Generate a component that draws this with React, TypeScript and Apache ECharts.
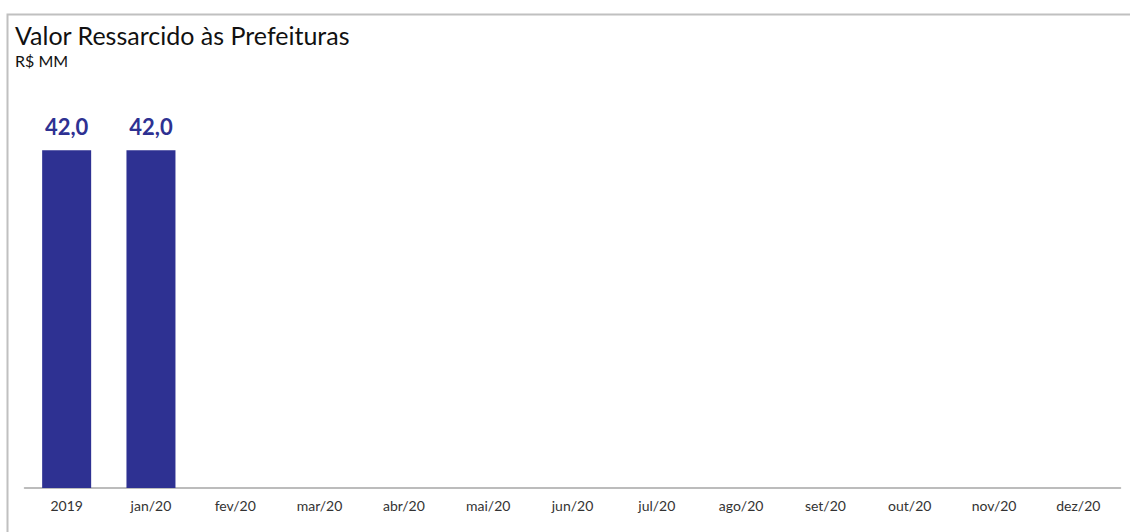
import React, { useEffect, useRef } from "react";
import * as echarts from "echarts";

const categories = ["2019", "jan/20", "fev/20", "mar/20", "abr/20", "mai/20", "jun/20", "jul/20", "ago/20", "set/20", "out/20", "nov/20", "dez/20"];
const values: (number | null)[] = [42.0, 42.0, null, null, null, null, null, null, null, null, null, null, null];

export default function App() {
  const ref = useRef<HTMLDivElement>(null);
  useEffect(() => {
    if (!ref.current) return;
    const chart = echarts.init(ref.current, undefined, { renderer: "svg" });
    chart.setOption({
      animation: false,
      backgroundColor: "#ffffff",
      graphic: [
        {
          type: "rect",
          shape: { x: 7.5, y: 14.5, width: 1140, height: 600 },
          style: { fill: "none", stroke: "#c0c0c0", lineWidth: 2 },
          silent: true,
        },
      ],
      title: {
        text: "Valor Ressarcido às Prefeituras",
        subtext: "R$ MM",
        left: 10,
        top: 17,
        itemGap: 5,
        textStyle: { fontFamily: "Lato", fontSize: 25, fontWeight: "normal", color: "#111111" },
        subtextStyle: { fontFamily: "Lato", fontSize: 16, color: "#111111" },
      },
      grid: { left: 24.5, right: 9.5, top: 86, bottom: 44 },
      xAxis: {
        type: "category",
        data: categories,
        axisLine: { lineStyle: { color: "#a6a6a6", width: 1.5 } },
        axisTick: { show: false },
        axisLabel: { color: "#333333", fontFamily: "Lato", fontSize: 14, margin: 10, interval: 0 },
      },
      yAxis: {
        type: "value",
        min: 0,
        max: 50,
        show: false,
        splitLine: { show: false },
      },
      series: [
        {
          type: "bar",
          data: values,
          barWidth: 49,
          itemStyle: { color: "#2e3192" },
          label: {
            show: true,
            position: "top",
            distance: 13,
            color: "#2e3192",
            fontFamily: "Lato",
            fontWeight: "bold",
            fontSize: 22,
            formatter: (p: any) => (p.value == null ? "" : Number(p.value).toFixed(1).replace(".", ",")),
          },
        },
      ],
    });
    return () => chart.dispose();
  }, []);
  return (
    <div
      ref={ref}
      style={{ position: "absolute", left: 0, top: 0, width: 1130, height: 532 }}
    />
  );
}
